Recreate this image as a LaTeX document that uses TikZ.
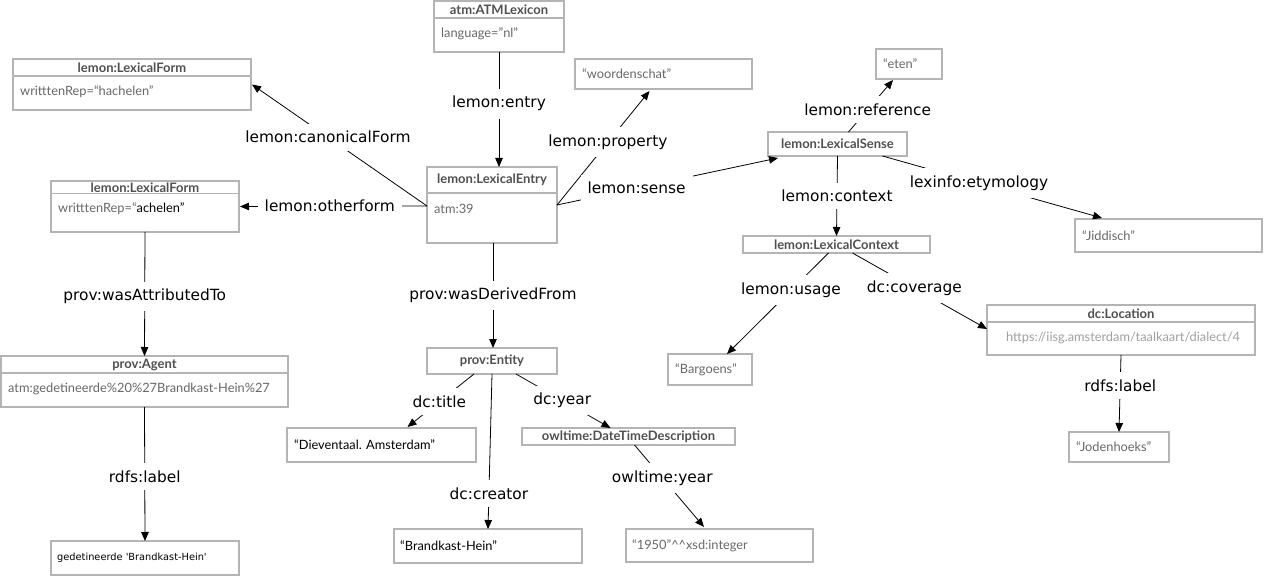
\documentclass[tikz,border=0pt]{standalone}
\usepackage{fontspec}
\usetikzlibrary{calc,arrows.meta}
\newfontfamily\boxfam{Lato}
\newfontfamily\lblfam{DejaVu Sans}
\definecolor{boxgray}{HTML}{B4B4B4}
\definecolor{hdrcol}{HTML}{505050}
\definecolor{bodycol}{HTML}{686868}
\definecolor{urlcol}{HTML}{A0A0A0}
\newcommand{\twobox}[8]{%
  \node[box, minimum width=#4pt, minimum height=#5pt] (#1) at (#2,#3) {};
  \draw[boxline] ($(#1.north west)+(0,#6)$) -- ($(#1.north east)+(0,#6)$);
  \node[hdr] (#1-h) at ($(#1.north)+(0,#6/2)$) {#7};
  \node[bodyt] (#1-b) at ($(#1.north west)+(7,#6+15.5)$) {#8};
}
\begin{document}
\begin{tikzpicture}[x=1pt,y=-1pt,
  box/.style={draw=boxgray, line width=1.5pt, inner sep=0pt, outer sep=0pt, anchor=north west},
  boxline/.style={draw=boxgray, line width=1.5pt},
  hdr/.style={font=\boxfam\bfseries\fontsize{13}{15}\selectfont, text=hdrcol, inner sep=0pt},
  bodyt/.style={font=\boxfam\fontsize{12.8}{15}\selectfont, text=bodycol, inner sep=0pt, anchor=west},
  lbl/.style={font=\lblfam\fontsize{15.4}{18}\selectfont, fill=white, inner xsep=7pt, inner ysep=7.5pt},
  conn/.style={draw=black, line width=0.8pt},
  arr/.style={conn, -{Triangle[length=9pt,width=7.5pt]}}]
\useasboundingbox[fill=white] (0,0) rectangle (1269,577);

% ---- boxes with header ----
\twobox{lf1}{13}{59}{238}{51}{17}{lemon:LexicalForm}{writttenRep=“hachelen”}
\twobox{lf2}{51}{181}{188}{51}{12.5}{lemon:LexicalForm}{writttenRep=“\textcolor{black}{achelen”}}
\twobox{atm}{434}{1}{130}{51}{17}{atm:ATMLexicon}{language=”nl”}
\twobox{le}{427}{167}{130}{76}{26}{lemon:LexicalEntry}{atm:39}
\twobox{agent}{1}{356}{287}{51}{17}{prov:Agent}{atm:gedetineerde\%20\%27Brandkast-Hein\%27}

% dc:Location (centered url)
\node[box, minimum width=268pt, minimum height=50pt] (loc) at (987,305) {};
\draw[boxline] ($(loc.north west)+(0,17)$) -- ($(loc.north east)+(0,17)$);
\node[hdr] (loc-h) at ($(loc.north)+(0,8.5)$) {dc:Location};
\node[bodyt, anchor=center, text=urlcol] (loc-b) at ($(loc.north)+(2,32.5)$) {https://iisg.amsterdam/taalkaart/dialect/4};

% ---- header-only boxes ----
\node[box, hdr, anchor=north west, minimum width=139pt, minimum height=24pt] (ls) at (768,132) {lemon:LexicalSense};
\node[box, hdr, anchor=north west, minimum width=187pt, minimum height=17pt] (lc) at (743,236) {lemon:LexicalContext};
\node[box, hdr, anchor=north west, minimum width=130pt, minimum height=26pt] (ent) at (427,348) {prov:Entity};
\node[box, hdr, anchor=north west, minimum width=213pt, minimum height=17pt] (dtd) at (522,428) {owltime:DateTimeDescription};

% ---- literal boxes ----
\node[box, minimum width=177pt, minimum height=30pt] (ws) at (575,59) {};
\node[bodyt] (ws-t) at ($(ws.west)+(7,0)$) {“woordenschat”};
\node[box, minimum width=66pt, minimum height=30pt] (eten) at (876,49) {};
\node[bodyt] (eten-t) at ($(eten.west)+(7,0)$) {“eten”};
\node[box, minimum width=187pt, minimum height=33pt] (jid) at (1075,219) {};
\node[bodyt] (jid-t) at ($(jid.west)+(7,0)$) {“Jiddisch”};
\node[box, minimum width=84pt, minimum height=31pt] (barg) at (668,354) {};
\node[bodyt] (barg-t) at ($(barg.west)+(7,0)$) {“Bargoens”};
\node[box, minimum width=100pt, minimum height=30pt] (jod) at (1069,432) {};
\node[bodyt] (jod-t) at ($(jod.west)+(7,0)$) {“Jodenhoeks”};
\node[box, minimum width=188pt, minimum height=34pt] (ged) at (51,541) {};
\node[bodyt, font=\lblfam\fontsize{9.8}{12}\selectfont, text=black] (ged-t) at ($(ged.west)+(6,0)$) {gedetineerde 'Brandkast-Hein'};
\node[box, minimum width=189pt, minimum height=34pt] (diev) at (287,428) {};
\node[bodyt, text=black] (diev-t) at ($(diev.west)+(7,0)$) {“Dieventaal. Amsterdam”};
\node[box, minimum width=188pt, minimum height=34pt] (bh) at (394,529) {};
\node[bodyt, text=black] (bh-t) at ($(bh.west)+(6,0)$) {“Brandkast-Hein”};
\node[box, minimum width=187pt, minimum height=33pt] (yr) at (626,529) {};
\node[bodyt] (yr-t) at ($(yr.west)+(6,0)$) {“1950”\^{}\^{}xsd:integer};

% ---- connectors ----
\draw[arr] ($(le.north west)+(0,39)$) -- node[lbl, pos=0.566] (l-can) {lemon:canonicalForm} ($(lf1.east)+(1,0)$);
\draw[arr] ($(le.north west)+(0,39)$) -- node[lbl, pos=0.52] (l-oth) {lemon:otherform} ($(lf2.east)+(1,0)$);
\draw[arr] (atm.south) -- node[lbl, pos=0.45] (l-ent) {lemon:entry} ($(le.north)+(7,0)$);
\draw[arr] ($(le.north east)+(0,38)$) -- node[lbl, pos=0.55] (l-prop) {lemon:property} ($(ws.south)+(-14,2)$);
\draw[arr] ($(le.north east)+(0,38)$) -- node[lbl, pos=0.36] (l-sen) {lemon:sense} ($(ls.south west)+(10,2)$);
\draw[arr] ($(ls.north)+(11,0)$) -- node[lbl, pos=0.43] (l-ref) {lemon:reference} ($(eten.south)+(-16,1)$);
\draw[arr] ($(ls.south)+(45,0)$) -- node[lbl, pos=0.44] (l-ety) {lexinfo:etymology} ($(jid.north west)+(27,-1)$);
\draw[arr] (ls.south) -- node[lbl, pos=0.5] (l-ctx) {lemon:context} (lc.north);
\draw[arr] ($(lc.south)+(-8,0)$) -- node[lbl, pos=0.37] (l-use) {lemon:usage} ($(barg.north)+(17,0)$);
\draw[arr] ($(lc.south)+(16,0)$) -- node[lbl, pos=0.46] (l-cov) {dc:coverage} ($(loc.north west)+(0,24)$);
\draw[arr] (loc.south) -- node[lbl, pos=0.40] (l-rl2) {rdfs:label} (jod.north);
\draw[arr] (lf2.south) -- node[lbl, pos=0.52] (l-att) {prov:wasAttributedTo} (agent.north);
\draw[arr] (agent.south) -- node[lbl, pos=0.52] (l-rl1) {rdfs:label} (ged.north);
\draw[arr] ($(le.south)+(1,0)$) -- node[lbl, pos=0.5] (l-der) {prov:wasDerivedFrom} ($(ent.north)+(1,0)$);
\draw[arr] ($(ent.south)+(-18,0)$) -- node[lbl, pos=0.52] (l-tit) {dc:title} ($(diev.north)+(26,-1)$);
\draw[arr] (ent.south) -- node[lbl, pos=0.77] (l-cre) {dc:creator} (bh.north);
\draw[arr] ($(ent.south)+(24,0)$) -- node[lbl, pos=0.49] (l-yr) {dc:year} ($(dtd.north)+(-18,0)$);
\draw[arr] ($(dtd.south)+(6,0)$) -- node[lbl, pos=0.40] (l-oy) {owltime:year} ($(yr.north)+(-15.5,-2)$);
\end{tikzpicture}
\end{document}
